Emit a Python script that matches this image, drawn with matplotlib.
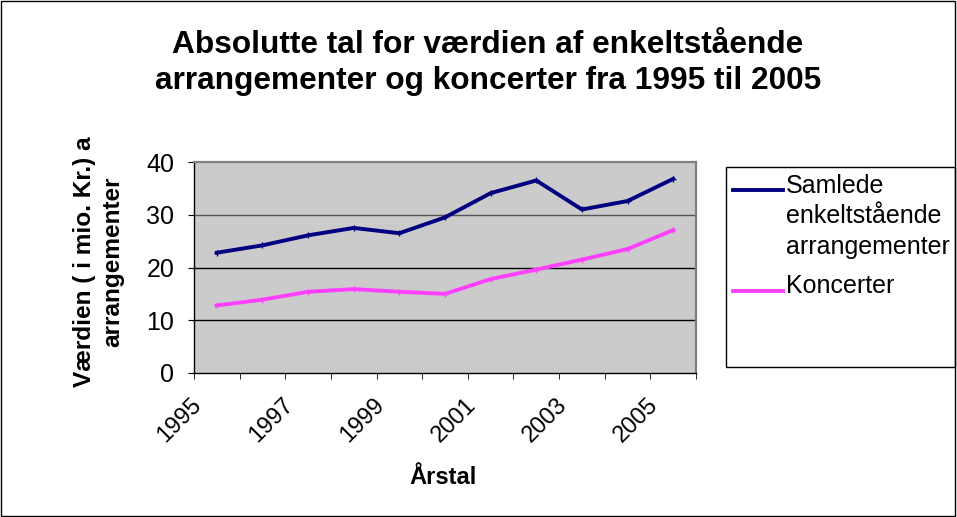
import matplotlib
matplotlib.use("Agg")
import matplotlib.pyplot as plt
from matplotlib.lines import Line2D
from matplotlib.patches import Rectangle
from matplotlib.transforms import ScaledTranslation

plt.rcParams["font.family"] = ["Liberation Sans", "DejaVu Sans"]

years = [1995, 1996, 1997, 1998, 1999, 2000, 2001, 2002, 2003, 2004, 2005]
samlede = [22.8, 24.2, 26.1, 27.5, 26.5, 29.5, 34.1, 36.5, 31.0, 32.6, 36.8]
koncerter = [12.8, 13.9, 15.4, 15.9, 15.4, 15.0, 17.8, 19.6, 21.5, 23.5, 27.1]
tick_labels = ["1995", "", "1997", "", "1999", "", "2001", "", "2003", "", "2005"]
y_ticks = [0, 10, 20, 30, 40]

navy = "#000080"
pink = "#FF40FF"
W, H = 957, 517

fig = plt.figure(figsize=(W / 100, H / 100), dpi=100)
ax = fig.add_axes([194 / W, 1 - 373 / H, 502 / W, 211 / H])
ax.set_facecolor("#CBCBCB")

x = list(range(len(years)))
ax.plot(x, samlede, color=navy, lw=2.8, marker="+", ms=4, mew=1, zorder=3)
ax.plot(x, koncerter, color=pink, lw=2.8, marker="+", ms=4, mew=1, zorder=3)

ax.set_xlim(-0.5, len(years) - 0.5)
ax.set_ylim(0, 40)
ax.set_yticks(y_ticks)
ax.tick_params(axis="y", labelsize=18, length=4.3, direction="out", pad=10)
for yv, c in [(10, "black"), (20, "black"), (30, "#555555")]:
    ax.axhline(yv, color=c, lw=1.0)

ax.set_xticks(x)
ax.set_xticklabels(tick_labels, rotation=45, ha="right", rotation_mode="anchor", fontsize=17)
ax.tick_params(axis="x", which="major", length=0, pad=12)
ax.set_xticks([i - 0.5 for i in range(len(years) + 1)], minor=True)
ax.tick_params(axis="x", which="minor", length=4.3, direction="out")
shift = ScaledTranslation(-0.26, -0.04, fig.dpi_scale_trans)
for lab in ax.get_xticklabels():
    lab.set_transform(lab.get_transform() + shift)

for s in ax.spines.values():
    s.set_color("#808080")
    s.set_linewidth(1.6)
ax.spines["left"].set_color("black")
ax.spines["left"].set_linewidth(1.0)
ax.spines["bottom"].set_color("black")
ax.spines["bottom"].set_linewidth(1.0)

fig.text(443 / W, 1 - 478 / H, "Årstal", fontsize=17, fontweight="bold", ha="center", va="center")
fig.text(99 / W, 1 - 262 / H, "Værdien ( i mio. Kr.) a\narrangementer", fontsize=17.6,
         fontweight="bold", rotation=90, ha="center", va="center", linespacing=1.29)

fig.text(0.510, 1 - 30 / H,
         "Absolutte tal for værdien af enkeltstående\narrangementer og koncerter fra 1995 til 2005",
         fontsize=22.8, fontweight="bold", ha="center", va="top", linespacing=1.24)

# legend box drawn by hand (Excel style: tall box, entries at top)
fig.add_artist(Rectangle((726 / W, 1 - 367 / H), 229 / W, 200 / H,
                         transform=fig.transFigure, fill=False, ec="black", lw=1))
entries = [("Samlede\nenkeltstående\narrangementer", navy, 190, 174),
           ("Koncerter", pink, 291, 274)]
for label, color, line_y, text_top in entries:
    yf = 1 - line_y / H
    fig.add_artist(Line2D([733 / W, 783 / W], [yf, yf], color=color, lw=2.8,
                          transform=fig.transFigure))
    fig.text(786 / W, 1 - text_top / H, label, fontsize=18, va="top", ha="left", linespacing=1.33)

# outer chart border
fig.add_artist(Rectangle((0.001, 0.002), 0.997, 0.996, transform=fig.transFigure,
                         fill=False, ec="black", lw=1))

fig.savefig("out.png", dpi=100)
